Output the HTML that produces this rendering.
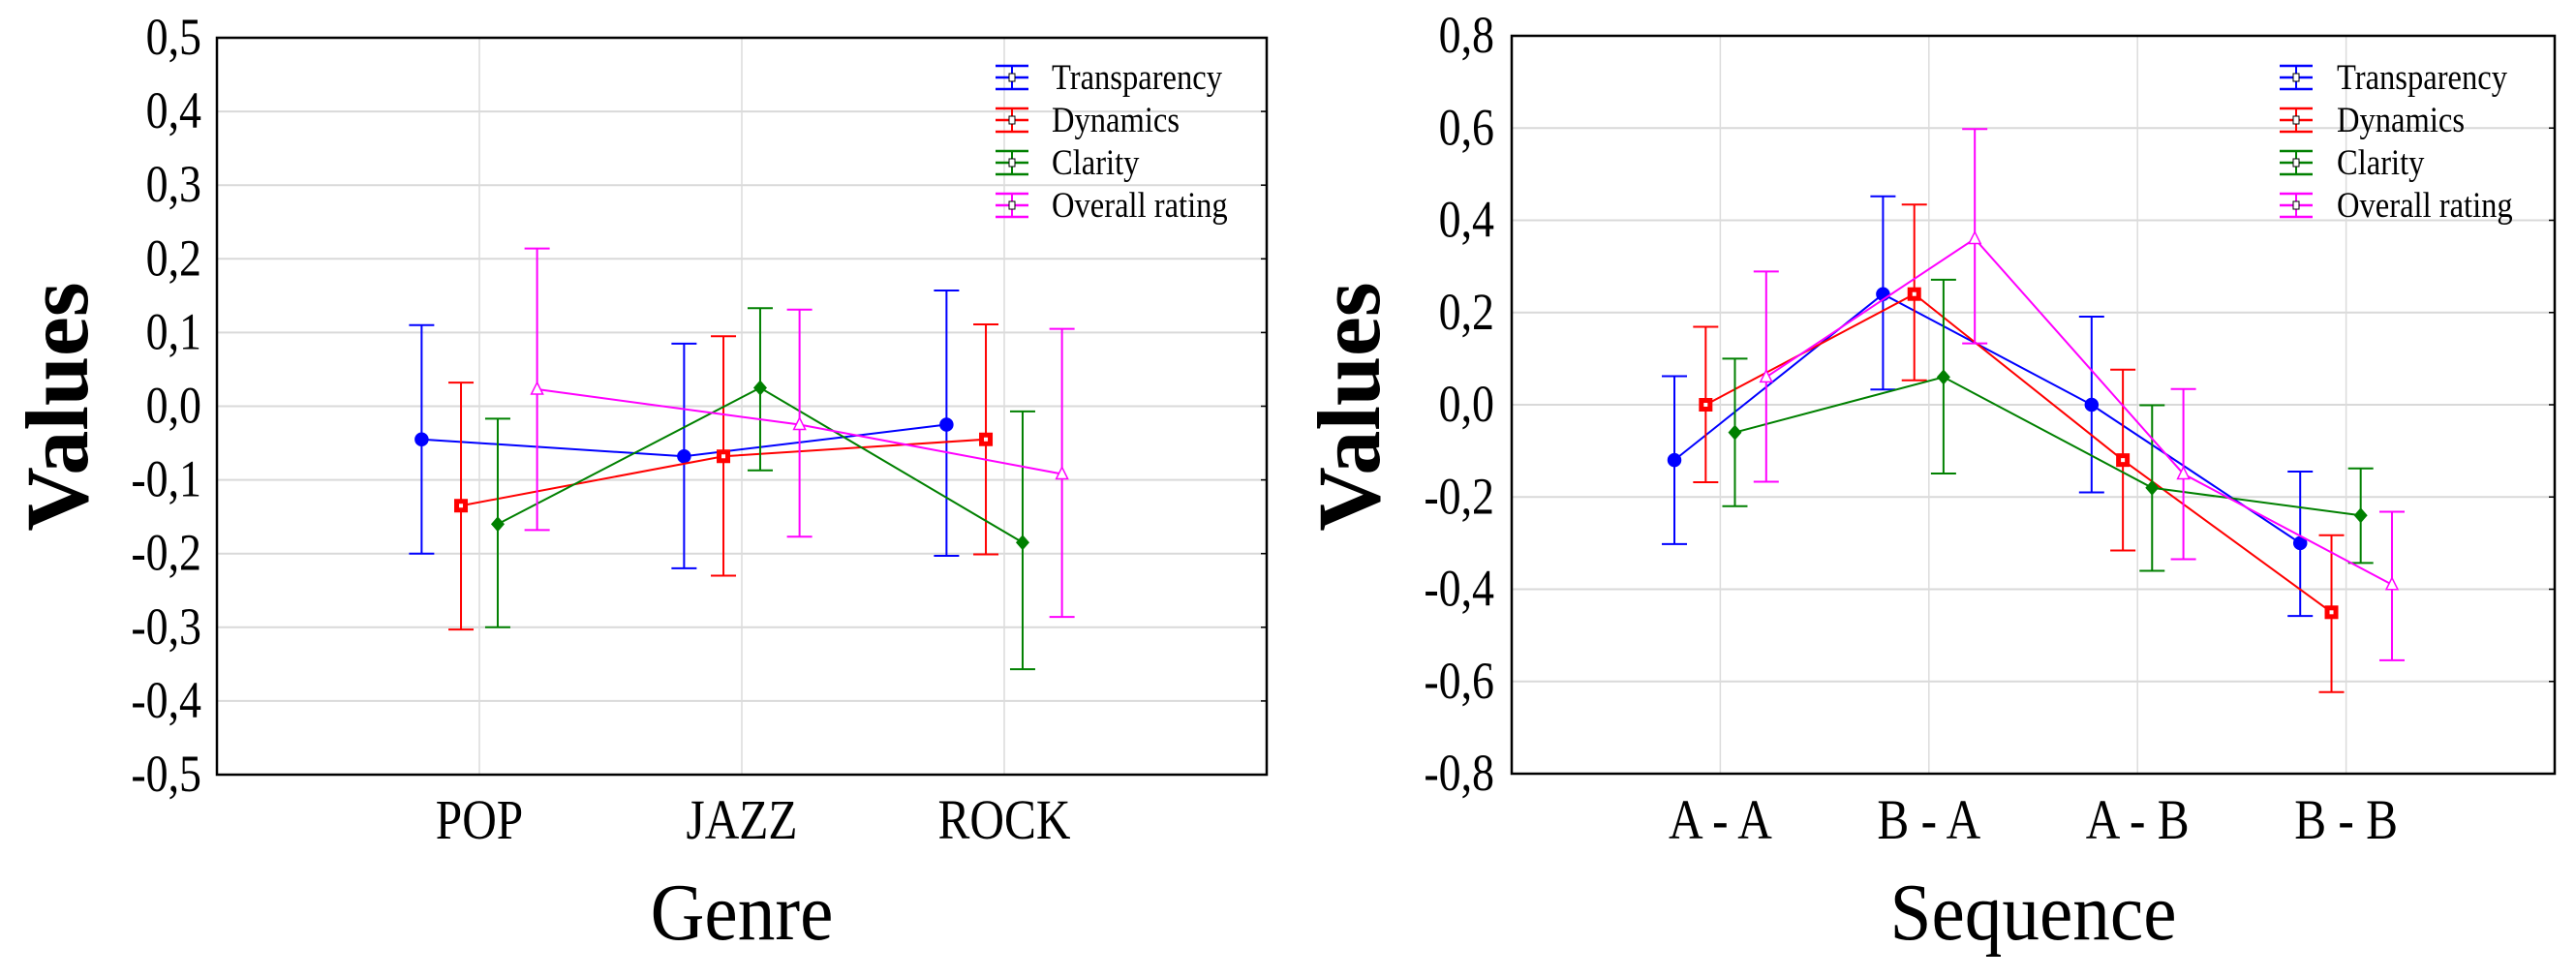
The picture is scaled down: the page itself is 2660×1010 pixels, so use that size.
<!DOCTYPE html>
<html><head><meta charset="utf-8"><style>
html,body{margin:0;padding:0;background:#fff}
svg{display:block}
text{font-family:"Liberation Serif","DejaVu Serif",serif}
</style></head><body>
<svg id="chart" width="2660" height="1010" viewBox="0 0 2660 1010" xmlns="http://www.w3.org/2000/svg"></svg>
<script>
// ---- Left chart data (Genre) ----
const genreCategories = ["POP","JAZZ","ROCK"];
const genreTicks = [-0.5,-0.4,-0.3,-0.2,-0.1,0.0,0.1,0.2,0.3,0.4,0.5];
const genreTransparency = [-0.045,-0.068,-0.025];
const genreTransparencyHi = [0.11,0.085,0.157];
const genreTransparencyLo = [-0.20,-0.22,-0.203];
const genreDynamics = [-0.135,-0.068,-0.045];
const genreDynamicsHi = [0.032,0.095,0.111];
const genreDynamicsLo = [-0.303,-0.23,-0.201];
const genreClarity = [-0.16,0.025,-0.185];
const genreClarityHi = [-0.017,0.133,-0.007];
const genreClarityLo = [-0.30,-0.087,-0.357];
const genreOverall = [0.023,-0.025,-0.092];
const genreOverallHi = [0.214,0.131,0.105];
const genreOverallLo = [-0.168,-0.177,-0.286];
// ---- Right chart data (Sequence) ----
const seqCategories = ["A - A","B - A","A - B","B - B"];
const seqTicks = [-0.8,-0.6,-0.4,-0.2,0.0,0.2,0.4,0.6,0.8];
const seqTransparency = [-0.12,0.24,0.0,-0.30];
const seqTransparencyHi = [0.062,0.452,0.191,-0.145];
const seqTransparencyLo = [-0.302,0.033,-0.19,-0.458];
const seqDynamics = [0.0,0.24,-0.12,-0.45];
const seqDynamicsHi = [0.169,0.434,0.076,-0.283];
const seqDynamicsLo = [-0.168,0.053,-0.316,-0.623];
const seqClarity = [-0.06,0.06,-0.18,-0.24];
const seqClarityHi = [0.10,0.271,-0.001,-0.138];
const seqClarityLo = [-0.22,-0.149,-0.36,-0.343];
const seqOverall = [0.06,0.36,-0.15,-0.39];
const seqOverallHi = [0.289,0.598,0.034,-0.232];
const seqOverallLo = [-0.167,0.133,-0.335,-0.554];
const seriesNames = ["Transparency","Dynamics","Clarity","Overall rating"];

const NS="http://www.w3.org/2000/svg";
const svg=document.getElementById('chart');
function el(tag,attrs,parent){const e=document.createElementNS(NS,tag);for(const k in attrs)e.setAttribute(k,attrs[k]);(parent||svg).appendChild(e);return e;}
function ctext(parent,x,y,str,size,anchor,sx){
  const t=el('text',{x:0,y:0,'text-anchor':anchor,'font-size':size,transform:`translate(${x},${y}) scale(${sx},1)`},parent);
  t.textContent=str;return t;
}
const colors=["#0000ff","#ff0000","#008000","#ff00ff"];
const offsets=[-0.22,-0.07,0.07,0.22];

function marker(g,type,x,y,c){
  let m;
  if(type===0){m=el('circle',{cx:x,cy:y,r:6.5,fill:c,stroke:c,'stroke-width':1.5},g);}
  else if(type===1){m=el('rect',{x:x-7,y:y-7,width:14,height:14,fill:c},g);el('rect',{x:x-2,y:y-2,width:4,height:4,fill:'#fff'},g);}
  else if(type===2){m=el('polygon',{points:`${x},${y-8} ${x+7},${y} ${x},${y+8} ${x-7},${y}`,fill:c},g);}
  else {m=el('polygon',{points:`${x},${y-7} ${x+6},${y+5} ${x-6},${y+5}`,fill:'#fff',stroke:c,'stroke-width':1.5},g);}
  return m;
}

function drawChart(cfg){
  const {name,L,R,T,B,xmax,ymin,ymax,cats,ticks,series,his,los,xtitle,ytitleX,legX,legTextX,tickRight}=cfg;
  const X=v=>L+(v/xmax)*(R-L);
  const Y=v=>B-(v-ymin)/(ymax-ymin)*(B-T);
  const g=el('g',{});
  
  
  ticks.forEach(t=>{
    const l=el('line',{x1:L,x2:R,y1:Y(t),y2:Y(t),stroke:'#d9d9d9','stroke-width':2},g);
    
    
    const tx=ctext(g,tickRight,Y(t)+17,t.toFixed(1).replace('.',','),54,'end',0.85);
    
    
    el('line',{x1:R-6,x2:R,y1:Y(t),y2:Y(t),stroke:'#000','stroke-width':1.5},g);
  });
  cats.forEach((c,i)=>{
    const l=el('line',{x1:X(i+1),x2:X(i+1),y1:T,y2:B,stroke:'#dcdcdc','stroke-width':1.5},g);
    
    
    const tx=ctext(g,X(i+1),866,c,58,'middle',0.85);
    
    
  });
  const box=el('rect',{x:L,y:T,width:R-L,height:B-T,fill:'none',stroke:'#000','stroke-width':2.5},g);
  
  
  series.forEach((vals,s)=>{
    const c=colors[s];
    const sg=el('g',{},g);
    
    
    const pts=vals.map((v,i)=>`${X(i+1+offsets[s])},${Y(v)}`).join(' ');
    const pl=el('polyline',{points:pts,fill:'none',stroke:c,'stroke-width':2},sg);
    
    
    vals.forEach((v,i)=>{
      const x=X(i+1+offsets[s]);
      const eb=el('g',{stroke:c,'stroke-width':2},sg);
      
      
      el('line',{x1:x,x2:x,y1:Y(his[s][i]),y2:Y(los[s][i])},eb);
      el('line',{x1:x-13,x2:x+13,y1:Y(his[s][i]),y2:Y(his[s][i])},eb);
      el('line',{x1:x-13,x2:x+13,y1:Y(los[s][i]),y2:Y(los[s][i])},eb);
      const m=marker(sg,s,x,Y(v),c);
      
      
    });
  });
  const rows=[80,124,168,212];
  seriesNames.forEach((n,s)=>{
    const lg=el('g',{},g);
    
    
    const c=colors[s], cx=legX+17, y=rows[s];
    el('line',{x1:legX,x2:legX+34,y1:y-12,y2:y-12,stroke:c,'stroke-width':2.5},lg);
    el('line',{x1:legX,x2:legX+34,y1:y+12,y2:y+12,stroke:c,'stroke-width':2.5},lg);
    el('line',{x1:legX,x2:legX+34,y1:y,y2:y,stroke:c,'stroke-width':2.5},lg);
    el('line',{x1:cx,x2:cx,y1:y-12,y2:y+12,stroke:c,'stroke-width':2},lg);
    el('rect',{x:cx-3,y:y-4,width:6,height:8,fill:'#fff',stroke:'#000','stroke-width':1},lg);
    ctext(lg,legTextX,y+12,n,37,'start',0.88);
  });
  const xt=ctext(g,(L+R)/2,970,xtitle,84,'middle',0.92);
  
  
  const yt=el('text',{x:0,y:0,'text-anchor':'middle','font-size':92,'font-weight':'bold',transform:`translate(${ytitleX},420) rotate(-90)`},g);
  
  
  yt.textContent='Values';
}

drawChart({name:'genre-chart',L:224,R:1308,T:39,B:800,xmax:4,ymin:-0.5,ymax:0.5,cats:genreCategories,ticks:genreTicks,
  series:[genreTransparency,genreDynamics,genreClarity,genreOverall],
  his:[genreTransparencyHi,genreDynamicsHi,genreClarityHi,genreOverallHi],
  los:[genreTransparencyLo,genreDynamicsLo,genreClarityLo,genreOverallLo],
  xtitle:'Genre',ytitleX:90,legX:1028,legTextX:1086,tickRight:208});
drawChart({name:'sequence-chart',L:1561,R:2638,T:37,B:799,xmax:5,ymin:-0.8,ymax:0.8,cats:seqCategories,ticks:seqTicks,
  series:[seqTransparency,seqDynamics,seqClarity,seqOverall],
  his:[seqTransparencyHi,seqDynamicsHi,seqClarityHi,seqOverallHi],
  los:[seqTransparencyLo,seqDynamicsLo,seqClarityLo,seqOverallLo],
  xtitle:'Sequence',ytitleX:1424,legX:2354,legTextX:2413,tickRight:1543});
</script>
</body></html>
